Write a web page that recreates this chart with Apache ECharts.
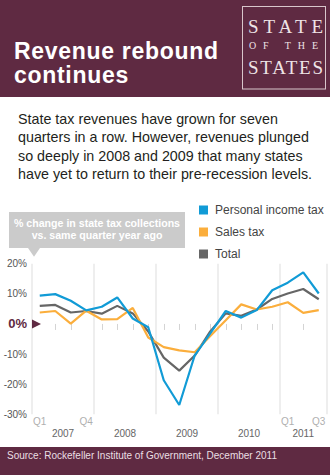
<!DOCTYPE html>
<html>
<head>
<meta charset="utf-8">
<script src="https://cdn.jsdelivr.net/npm/echarts@6/dist/echarts.min.js"></script>
<style>
  html, body { margin: 0; padding: 0; background: #fff; }
  body { width: 330px; height: 475px; position: relative; overflow: hidden;
         font-family: "Liberation Sans", Arial, Helvetica, sans-serif; }
  #page { position: absolute; left: 0; top: 0; }
  #chart { position: absolute; left: 0; top: 196px; width: 330px; height: 251px; }
</style>
</head>
<body>
<svg id="page" width="330" height="475" xmlns="http://www.w3.org/2000/svg">
  <!-- header band -->
  <rect x="0" y="0" width="330" height="97" fill="#5f2a42"/>
  <g font-family="Liberation Sans, Arial, sans-serif" font-weight="bold" font-size="23" fill="#ffffff" letter-spacing="0.7">
    <text x="14" y="59">Revenue rebound</text>
    <text x="14" y="83.3">continues</text>
  </g>
  <!-- masthead logo -->
  <rect x="242.5" y="6.5" width="83" height="82.5" fill="none" stroke="#d8c6cb" stroke-width="1"/>
  <g font-family="Liberation Serif, Times New Roman, serif" fill="#eee3e6">
    <text x="248" y="33.3" font-size="19" textLength="75" lengthAdjust="spacing">STATE</text>
    <text x="249" y="49" font-size="10" textLength="69" lengthAdjust="spacing">OF THE</text>
    <text x="248" y="74" font-size="19" textLength="75" lengthAdjust="spacing">STATES</text>
  </g>
  <!-- intro paragraph -->
  <g font-family="Liberation Sans, Arial, sans-serif" font-size="14.3" fill="#231f20">
    <text x="18" y="124">State tax revenues have grown for seven</text>
    <text x="18" y="142.4">quarters in a row. However, revenues plunged</text>
    <text x="18" y="160.8">so deeply in 2008 and 2009 that many states</text>
    <text x="18" y="179.2">have yet to return to their pre-recession levels.</text>
  </g>
  <!-- footer band -->
  <rect x="0" y="447" width="330" height="28" fill="#5f2a42"/>
  <text x="7" y="459" font-family="Liberation Sans, Arial, sans-serif" font-size="10" fill="#eadfe2">Source: Rockefeller Institute of Government, December 2011</text>
</svg>
<div id="chart"></div>
<script>
// Quarterly categories, 2007 Q1 through 2011 Q3
const quarters = [
  'Q1 2007', 'Q2 2007', 'Q3 2007', 'Q4 2007',
  'Q1 2008', 'Q2 2008', 'Q3 2008', 'Q4 2008',
  'Q1 2009', 'Q2 2009', 'Q3 2009', 'Q4 2009',
  'Q1 2010', 'Q2 2010', 'Q3 2010', 'Q4 2010',
  'Q1 2011', 'Q2 2011', 'Q3 2011'
];
// Quarters that carry a visible label on the axis
const labeledQuarters = ['Q1 2007', 'Q4 2007', 'Q1 2011', 'Q3 2011'];
// Year groups under the quarter axis
const years = ['2007', '2008', '2009', '2010', '2011'];

// % change in state tax collections vs. same quarter a year earlier
const personalIncomeTax = [9.4, 9.9, 7.7, 4.5, 5.7, 8.8, 1.8, -1.1, -18.7, -26.9, -10.4, -3.1, 4.3, 2.1, 4.6, 11.2, 13.7, 17.1, 10.1];
const salesTax          = [3.8, 4.3, 0.1, 4.4, 1.5, 1.6, 5.3, -4.5, -7.7, -8.8, -9.4, -4.0, 1.2, 6.5, 4.8, 5.7, 7.2, 3.7, 4.6];
const totalTax          = [6.0, 6.3, 3.8, 4.3, 3.4, 6.0, 3.5, -2.5, -11.2, -15.5, -10.5, -2.5, 3.5, 2.7, 4.8, 8.3, 10.1, 11.6, 8.2];

const seriesNames = ['Personal income tax', 'Sales tax', 'Total'];
const seriesColors = ['#119bd6', '#fbae3c', '#666666'];

const yMin = -30, yMax = 20, yStep = 10;
const noteLines = ['% change in state tax collections', 'vs. same quarter year ago'];

const maroon = '#5f2a42';
const FONT = '"Liberation Sans", Arial, Helvetica, sans-serif';

// Centre of each year group, in quarter units along the axis
const yearOf = q => q.split(' ')[1];
const yearCenters = years.map(y => {
  const first = quarters.findIndex(q => yearOf(q) === y);
  const count = quarters.filter(q => yearOf(q) === y).length;
  return first + count / 2;
});

const chart = echarts.init(document.getElementById('chart'), null, { renderer: 'svg' });

const lineSeries = [personalIncomeTax, salesTax, totalTax].map((data, i) => ({
  name: seriesNames[i],
  type: 'line',
  data: data,
  symbol: 'none',
  z: 4 - i,
  lineStyle: { color: seriesColors[i], width: 2.2 },
  itemStyle: { color: seriesColors[i] }
}));

chart.setOption({
  animation: false,
  textStyle: { fontFamily: FONT },
  grid: { left: 32, right: 3.5, top: 67.7, bottom: 32.7 },
  legend: {
    orient: 'vertical',
    left: 199, top: 8,
    padding: 0,
    icon: 'rect',
    itemWidth: 9, itemHeight: 9,
    itemGap: 10,
    textStyle: { fontSize: 12, color: '#444', fontFamily: FONT, padding: [0, 0, 0, 2] },
    data: seriesNames
  },
  xAxis: [
    {
      type: 'category',
      data: quarters,
      boundaryGap: true,
      offset: 4,
      axisLine: { show: false },
      axisTick: {
        show: true, alignWithLabel: true, length: 6,
        interval: (i) => labeledQuarters.indexOf(quarters[i]) < 0,
        lineStyle: { color: '#d4d4d4', width: 1 }
      },
      axisLabel: {
        interval: (i) => labeledQuarters.indexOf(quarters[i]) >= 0,
        formatter: (v) => v.split(' ')[0],
        margin: -2,
        fontSize: 10, color: '#b0b0b0', fontFamily: FONT
      },
      splitLine: {
        show: true,
        interval: (i) => i % 4 === 0,
        lineStyle: { color: '#e8e8e8', width: 1.5 }
      }
    },
    {
      type: 'value',
      min: 0, max: quarters.length,
      position: 'bottom',
      axisLine: { show: false },
      axisTick: { show: false },
      splitLine: { show: false },
      axisLabel: {
        customValues: yearCenters,
        formatter: (v) => {
          const k = yearCenters.indexOf(v);
          return k >= 0 ? years[k] : '';
        },
        margin: 14,
        fontSize: 10, color: '#666', fontFamily: FONT
      }
    }
  ],
  yAxis: {
    type: 'value',
    min: yMin, max: yMax, interval: yStep,
    axisLine: { show: false },
    axisTick: { show: false },
    splitLine: { show: false },
    axisLabel: {
      margin: 5,
      fontSize: 10, color: '#555', fontFamily: FONT,
      formatter: (v) => v === 0 ? '{z|0%}' : v + '%',
      rich: { z: { fontSize: 13, fontWeight: 'bold', color: maroon, fontFamily: FONT } }
    }
  },
  series: lineSeries
});

// Marker pointing at the zero line, and the unit note above the plot
const zeroY = chart.convertToPixel({ yAxisIndex: 0 }, 0);
const axisX = chart.convertToPixel({ xAxisIndex: 1 }, 0);
const topY = chart.convertToPixel({ yAxisIndex: 0 }, yMax);

chart.setOption({
  graphic: [
    {
      type: 'polygon',
      shape: { points: [[axisX, zeroY - 4.5], [axisX, zeroY + 4.5], [axisX + 9, zeroY]] },
      style: { fill: maroon },
      z: 10
    },
    {
      type: 'group',
      left: 9, top: 16,
      children: [
        { type: 'rect', shape: { x: 0, y: 0, width: 176, height: 36 }, style: { fill: '#cbcbcb' } },
        { type: 'polygon', shape: { points: [[19, 36], [31, 36], [25, topY - 16 - 7]] }, style: { fill: '#cbcbcb' } },
        { type: 'text', style: { x: 88, y: 11, text: noteLines[0], fill: '#fff', align: 'center', verticalAlign: 'middle',
            font: 'bold 10.6px ' + FONT } },
        { type: 'text', style: { x: 88, y: 23, text: noteLines[1], fill: '#fff', align: 'center', verticalAlign: 'middle',
            font: 'bold 10.6px ' + FONT } }
      ]
    }
  ]
});
</script>
</body>
</html>
